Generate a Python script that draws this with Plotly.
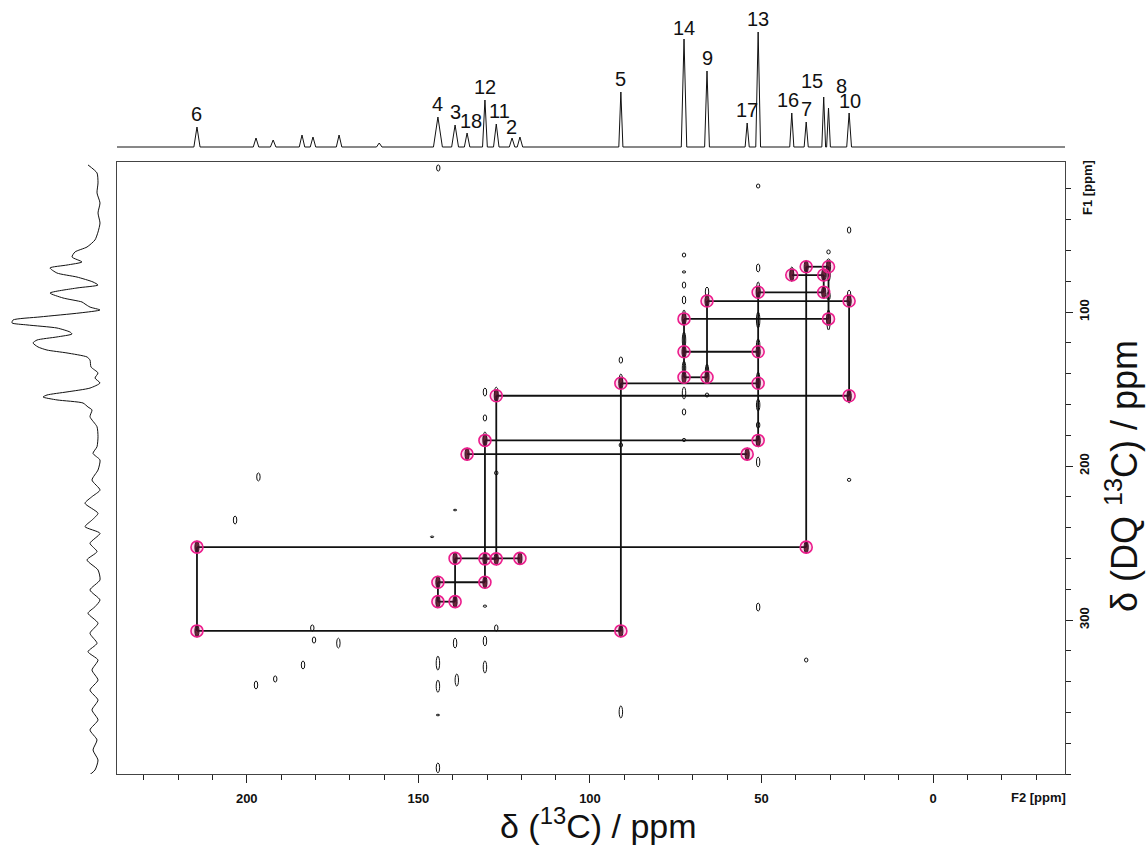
import plotly.graph_objects as go

W, H = 1147, 845
FONT = "Liberation Sans, Arial, sans-serif"

# ---------------- data ----------------
# labelled carbons: F2 shift (ppm) and 1D intensity (arb.)
carbon_labels = ["6", "4", "3", "18", "12", "11", "2", "5", "14", "9", "17", "13", "16", "7", "15", "8", "10"]
carbon_f2 = [214.5, 144.3, 139.3, 135.8, 130.6, 127.3, 120.4, 91.0, 72.6, 65.9, 54.2, 51.0, 41.2, 37.0, 31.9, 30.5, 24.5]
carbon_height = [20, 30, 22, 14, 47, 23, 10, 55, 108, 76, 24, 115, 34, 25, 50, 39, 34]
carbon_halfwidth = [0.9, 1.3, 1.0, 0.8, 0.7, 0.8, 0.8, 0.6, 0.8, 0.7, 0.6, 0.7, 0.6, 0.6, 0.55, 0.55, 0.7]

# unlabelled small signals in the 1D spectrum
minor_f2 = [197.3, 192.3, 183.9, 180.7, 173.1, 161.4, 122.7]
minor_height = [9, 7, 12, 10, 12, 4, 9]

# DQ correlations (carbon a, carbon b, F1 double-quantum shift)
pair_a = ["7", "16", "13", "9", "14", "14", "14", "5", "11", "12", "18", "6", "3", "12", "4", "4", "6"]
pair_b = ["8", "15", "15", "10", "8", "13", "9", "13", "10", "13", "17", "7", "2", "11", "12", "3", "5"]
pair_f1 = [70.6, 76.0, 87.2, 92.9, 104.5, 125.8, 142.4, 146.3, 154.4, 183.4, 192.3, 252.7, 260.0, 260.3, 275.5, 288.1, 307.1]

# other contour islands in the 2D map (F2, F1, half height in F1 ppm)
cont_f2 = [144.2, 51.0, 24.5, 72.6, 72.6, 72.6, 72.6, 72.6, 72.6, 72.6, 72.6, 72.6, 72.6,
           65.9, 65.9, 65.9, 51.0, 51.0, 51.0, 51.0, 51.0, 51.0, 51.0, 51.0, 51.0, 51.0,
           41.2, 30.5, 30.5, 30.5, 30.5, 30.5, 24.5, 24.5, 24.5, 37.0,
           91.0, 91.0, 91.0, 91.0, 130.6, 130.6, 130.6, 130.6, 130.6, 130.6,
           127.3, 127.3, 127.3, 139.3, 144.3, 144.3, 144.3, 144.3, 139.3, 138.8,
           180.9, 180.4, 173.3, 183.6, 191.7, 197.3, 196.6, 203.4, 146.0]
cont_f1 = [6.5, 18.2, 46.8, 63.0, 74.0, 82.5, 92.2, 103.9, 118.2, 136.4, 152.6, 164.9, 183.1,
           87.0, 139.0, 153.9, 71.4, 85.7, 105.2, 121.4, 144.2, 160.4, 173.4, 184.4, 197.4, 291.6,
           74.0, 61.0, 67.5, 76.0, 89.6, 105.2, 89.0, 155.2, 209.0, 326.0,
           131.2, 144.2, 186.4, 359.7, 152.0, 168.8, 181.8, 291.0, 313.6, 330.5,
           152.0, 204.5, 305.2, 228.6, 328.0, 343.0, 361.7, 396.0, 315.0, 339.0,
           305.2, 313.0, 315.0, 329.2, 338.3, 342.2, 207.1, 235.1, 246.0]
cont_h = [2.0, 1.3, 2.0, 1.3, 0.7, 2.0, 2.6, 5.2, 5.2, 4.5, 3.9, 2.0, 1.0,
          3.2, 5.2, 1.3, 2.6, 5.2, 5.2, 3.9, 5.2, 3.9, 2.0, 3.2, 3.2, 2.6,
          3.2, 1.3, 2.0, 3.9, 2.6, 6.5, 3.2, 3.9, 1.0, 1.3,
          2.0, 3.9, 1.3, 3.9, 2.6, 2.0, 3.9, 0.7, 3.2, 3.9,
          3.2, 1.3, 2.0, 0.5, 4.5, 3.9, 0.5, 3.2, 3.2, 3.9,
          2.0, 2.0, 3.2, 2.6, 2.0, 2.6, 2.6, 2.6, 0.5]

# F1 projection (left): DQ shift and intensity (arb.)
proj_f1 = [4.5, 9.7, 16.2, 22.7, 29.2, 35.7, 42.2, 48.1, 53.2, 57.8, 61.0, 64.3, 67.5, 69.5, 71.4,
           74.7, 77.3, 80.5, 82.5, 84.4, 87.7, 90.9, 93.5, 94.8, 96.8, 98.7, 100.6, 103.2, 105.2,
           107.1, 108.4, 110.4, 113.0, 114.3, 116.2, 118.2, 120.1, 122.7, 124.7, 126.6, 129.2,
           131.2, 135.7, 139.6, 142.9, 146.1, 149.4, 151.9, 153.9, 155.2, 157.1, 159.1, 161.7,
           163.6, 168.0, 174.5, 181.0, 187.5, 191.8, 196.1, 202.6, 209.1, 215.6, 219.9, 224.2,
           230.7, 235.1, 239.4, 243.7, 250.2, 255.6, 261.0, 267.5, 274.0, 280.5, 287.0, 291.4,
           295.6, 302.1, 308.6, 315.1, 320.6, 326.0, 332.5, 339.0, 345.5, 352.0, 358.4, 364.9,
           371.4, 377.9, 384.4, 390.9, 397.4, 402.8]
proj_int = [12, 3, 2, 3, 0, 2, 0, 2, 5, 13, 25, 28, 18, 33, 50,
            43, 23, 7, 2, 23, 50, 37, 18, 15, 10, 0, 20, 60, 87,
            88, 73, 43, 30, 28, 43, 63, 67, 62, 53, 33, 13,
            10, 9, 2, 5, 0, 10, 33, 53, 57, 43, 17, 12,
            8, 10, 3, 2, 3, 7, 0, 2, 8, 0, 8, 15,
            2, 8, 15, 0, 10, 3, 13, 2, 0, 10, 0, 5,
            12, 2, 10, 3, 12, 2, 8, 2, 10, 2, 8, 2,
            10, 3, 7, 2, 5, 15]

# axes
F2_RANGE = [237.8, -38.4]
F1_RANGE = [400, 2.6]

# ---------------- build ----------------
shift = dict(zip(carbon_labels, carbon_f2))

# 1D spectrum polyline
sig = sorted(
    [(p, h, w) for p, h, w in zip(carbon_f2, carbon_height, carbon_halfwidth)]
    + [(p, h, 0.8) for p, h in zip(minor_f2, minor_height)],
    key=lambda t: -t[0])
sx, sy = [F2_RANGE[0]], [0]
for p, h, w in sig:
    sx += [p + w, p, p - w]
    sy += [0, h, 0]
sx.append(F2_RANGE[1]); sy.append(0)

fig = go.Figure()

fig.add_trace(go.Scatter(x=sx, y=sy, xaxis="x", yaxis="y2", mode="lines",
                         line=dict(color="#111", width=1), hoverinfo="skip"))

fig.add_trace(go.Scatter(x=proj_int, y=proj_f1, xaxis="x2", yaxis="y", mode="lines",
                         line=dict(color="#111", width=1, shape="spline", smoothing=0.6),
                         hoverinfo="skip"))

# connectivity lines
lx, ly = [], []
cx, cy = [], []
per_carbon = {}
for a, b, f1 in zip(pair_a, pair_b, pair_f1):
    lx += [shift[a], shift[b], None]
    ly += [f1, f1, None]
    cx += [shift[a], shift[b]]
    cy += [f1, f1]
    per_carbon.setdefault(a, []).append(f1)
    per_carbon.setdefault(b, []).append(f1)
for c, vals in per_carbon.items():
    if len(vals) > 1:
        lx += [shift[c], shift[c], None]
        ly += [min(vals), max(vals), None]

shapes = []
for f2, f1, h in zip(cont_f2, cont_f1, cont_h):
    shapes.append(dict(type="circle", xref="x", yref="y", layer="below",
                       x0=f2 + 0.5, x1=f2 - 0.5, y0=f1 - h, y1=f1 + h,
                       line=dict(color="#111", width=1)))
for x, y in zip(cx, cy):
    shapes.append(dict(type="circle", xref="x", yref="y", layer="below",
                       x0=x + 0.6, x1=x - 0.6, y0=y - 4.0, y1=y + 4.0,
                       fillcolor="#4a2626", line=dict(color="#111", width=1)))

fig.add_trace(go.Scatter(x=lx, y=ly, mode="lines", line=dict(color="#111", width=1.8),
                         hoverinfo="skip"))
fig.add_trace(go.Scatter(x=cx, y=cy, mode="markers",
                         marker=dict(symbol="circle", size=12, color="rgba(236,28,140,0.18)",
                                     line=dict(color="#EC1C8C", width=1.6)),
                         hoverinfo="skip"))

# peak labels
label_shift = {"18": (4, -1), "16": (-4, 0), "15": (-12, 3), "8": (13, 9), "2": (-8, -3),
               "11": (3, 0), "14": (0, -2), "10": (1, -1)}
ann = []
for lab, p, h in zip(carbon_labels, carbon_f2, carbon_height):
    dx, dy = label_shift.get(lab, (0, 0))
    ann.append(dict(x=p, y=h, xref="x", yref="y2", text=lab, showarrow=False,
                    xanchor="center", yanchor="bottom", xshift=dx, yshift=dy,
                    font=dict(family=FONT, size=20, color="#111")))

ann += [
    dict(x=1038 / W, y=1 - 797 / H, xref="paper", yref="paper", text="F2 [ppm]", showarrow=False,
         xanchor="center", yanchor="middle",
         font=dict(family=FONT, size=13, color="#111", weight="bold")),
    dict(x=1087 / W, y=1 - 188 / H, xref="paper", yref="paper", text="F1 [ppm]", showarrow=False,
         textangle=-90, xanchor="center", yanchor="middle",
         font=dict(family=FONT, size=13, color="#111", weight="bold")),
    dict(x=598 / W, y=1 - 823 / H, xref="paper", yref="paper",
         text="δ (<sup>13</sup>C) / ppm", showarrow=False, xanchor="center", yanchor="middle",
         font=dict(family=FONT, size=34, color="#111")),
    dict(x=1122 / W, y=1 - 476 / H, xref="paper", yref="paper",
         text="δ (DQ <sup>13</sup>C) / ppm", showarrow=False, textangle=-90,
         xanchor="center", yanchor="middle",
         font=dict(family=FONT, size=36, color="#111")),
]

tickfont = dict(family=FONT, size=13, color="#111", weight="bold")

fig.update_layout(
    width=W, height=H, margin=dict(l=0, r=0, t=0, b=0),
    paper_bgcolor="white", plot_bgcolor="white", showlegend=False,
    xaxis=dict(domain=[117 / W, 1065 / W], range=F2_RANGE, anchor="y",
               showgrid=False, zeroline=False, showline=True, linecolor="#444", linewidth=1,
               mirror=True, ticks="outside", ticklen=8, tickwidth=1.2, tickcolor="#222",
               tick0=0, dtick=50, tickfont=tickfont, ticklabelstandoff=4,
               minor=dict(ticks="outside", ticklen=5, tickwidth=1.2, tickcolor="#222",
                          tick0=0, dtick=10, showgrid=False)),
    yaxis=dict(domain=[1 - 774 / H, 1 - 162 / H], range=F1_RANGE, anchor="x", side="right",
               showgrid=False, zeroline=False, showline=True, linecolor="#444", linewidth=1,
               mirror=True, ticks="outside", ticklen=7, tickwidth=1.2, tickcolor="#222",
               tickmode="array", tickvals=[100, 200, 300], tickangle=-90, tickfont=tickfont,
               minor=dict(ticks="outside", ticklen=5, tickwidth=1.2, tickcolor="#222",
                          tickmode="linear", tick0=0, dtick=20, showgrid=False)),
    xaxis2=dict(domain=[0, 105 / W], range=[100, -5], anchor="y", visible=False),
    yaxis2=dict(domain=[1 - 158 / H, 1 - 10 / H], range=[-11, 137], anchor="x", visible=False),
    shapes=shapes, annotations=ann,
)

fig.write_html("out.html")
